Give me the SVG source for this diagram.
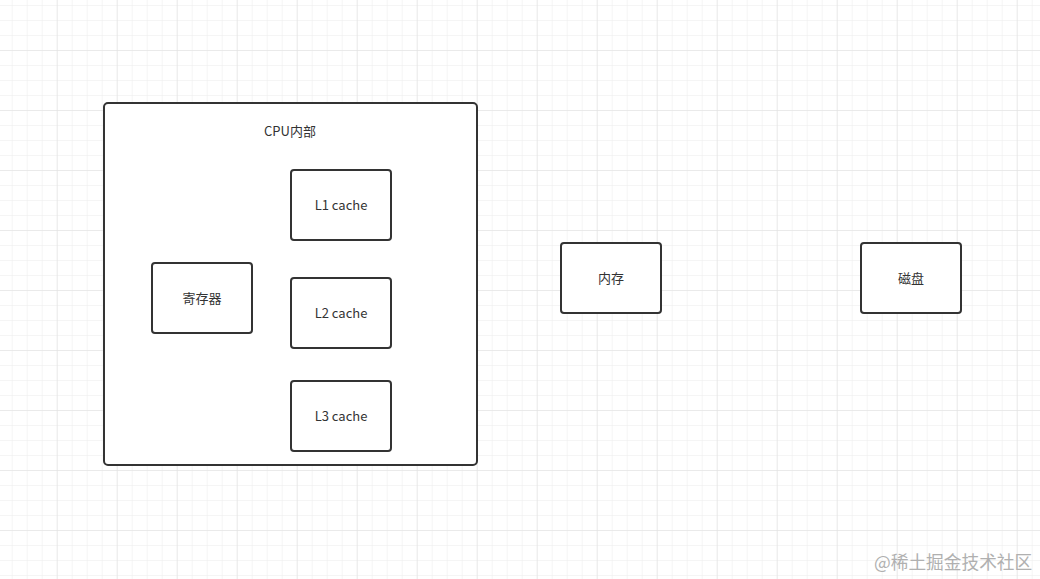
<svg xmlns="http://www.w3.org/2000/svg" width="1040" height="579" viewBox="0 0 1040 579">
<defs>
<pattern id="minor" x="11.7" y="5" width="15" height="15" patternUnits="userSpaceOnUse">
<path d="M0 0H15M0 0V15" fill="none" stroke="#ececec" stroke-width="1"/>
</pattern>
<pattern id="major" x="56.7" y="50" width="60" height="60" patternUnits="userSpaceOnUse">
<path d="M0 0H60M0 0V60" fill="none" stroke="#e0e0e0" stroke-width="1"/>
</pattern>
</defs>
<style>
.box{fill:#fff;stroke:#333;stroke-width:2}
.t{font-family:"Noto Sans CJK SC","Noto Sans",sans-serif;font-size:13px;fill:#333;text-anchor:middle;dominant-baseline:central}
.wm{font-family:"Noto Sans CJK SC",sans-serif;font-size:17.7px;fill:#b0b0b0}
</style>
<rect width="1040" height="579" fill="#fff"/>
<rect width="1040" height="579" fill="url(#minor)"/>
<rect width="1040" height="579" fill="url(#major)"/>
<g id="cpu"><rect class="box" x="104" y="103" width="373" height="362" rx="4"/><text class="t" x="290" y="130">CPU内部</text></g>
<g id="l1"><rect class="box" x="291" y="170" width="100" height="70" rx="3"/><text class="t" x="341" y="204">L1 cache</text></g>
<g id="reg"><rect class="box" x="152" y="263" width="100" height="70" rx="3"/><text class="t" x="202" y="297">寄存器</text></g>
<g id="l2"><rect class="box" x="291" y="278" width="100" height="70" rx="3"/><text class="t" x="341" y="312">L2 cache</text></g>
<g id="l3"><rect class="box" x="291" y="381" width="100" height="70" rx="3"/><text class="t" x="341" y="415">L3 cache</text></g>
<g id="mem"><rect class="box" x="561" y="243" width="100" height="70" rx="3"/><text class="t" x="611" y="277">内存</text></g>
<g id="disk"><rect class="box" x="861" y="243" width="100" height="70" rx="3"/><text class="t" x="911" y="277">磁盘</text></g>
<g id="connectors"></g>
<text class="wm" x="874" y="569">@稀土掘金技术社区</text>
</svg>
